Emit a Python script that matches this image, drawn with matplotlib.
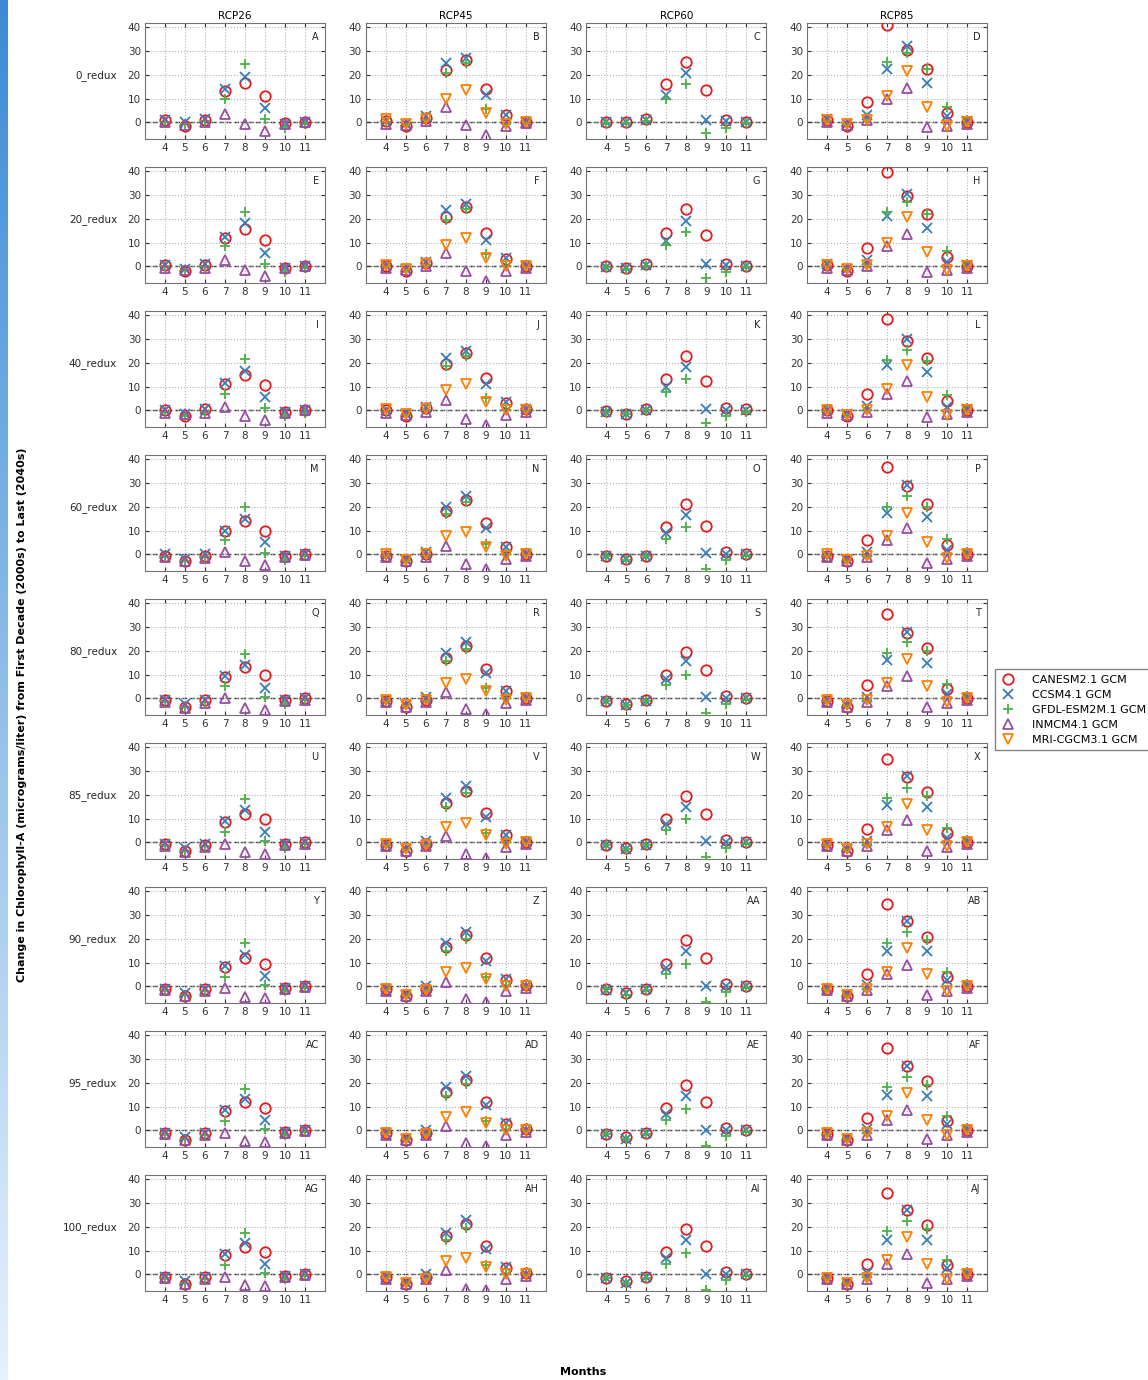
import matplotlib
matplotlib.use("Agg")
import matplotlib.pyplot as plt
import numpy as np

months = [4, 5, 6, 7, 8, 9, 10, 11]
scenarios = ["0_redux", "20_redux", "40_redux", "60_redux", "80_redux",
             "85_redux", "90_redux", "95_redux", "100_redux"]
rcps = ["RCP26", "RCP45", "RCP60", "RCP85"]
letters = ["A", "B", "C", "D", "E", "F", "G", "H", "I", "J", "K", "L",
           "M", "N", "O", "P", "Q", "R", "S", "T", "U", "V", "W", "X",
           "Y", "Z", "AA", "AB", "AC", "AD", "AE", "AF", "AG", "AH", "AI", "AJ"]
models = ["CANESM2.1 GCM", "CCSM4.1 GCM", "GFDL-ESM2M.1 GCM",
          "INMCM4.1 GCM", "MRI-CGCM3.1 GCM"]

# one row per scenario, one value per month
rcp26_canesm = [[1, -1.5, 1, 13, 16.5, 11, -0.3, 0],
                [0.5, -2, 0.5, 12, 15.5, 11, -0.5, 0],
                [0, -2.5, 0.5, 11, 15, 10.5, -0.5, 0],
                [-0.5, -3, -0.5, 10, 14, 10, -0.5, 0],
                [-0.5, -3.5, -0.5, 9, 13, 10, -0.5, 0],
                [-0.5, -3.5, -1, 8.5, 12, 10, -0.5, 0.3],
                [-1, -4, -1, 8, 12, 9.5, -0.5, 0.3],
                [-1, -4, -1, 8, 12, 9.5, -0.5, 0.3],
                [-1, -4, -1, 8, 11.5, 9.5, -0.5, 0.3]]
rcp26_ccsm = [[0.8, 0, 1.5, 14, 19, 6, -0.5, 0.3],
              [0.5, -1, 1, 12.5, 18, 5.5, -0.5, 0.3],
              [0.3, -1.5, 0.5, 11.5, 16.5, 5.5, -0.5, 0.3],
              [0, -2, 0, 10, 15, 5, -0.5, 0.3],
              [-0.5, -2.5, -0.5, 9.5, 14, 4.5, -0.5, 0],
              [-0.5, -2.5, -0.5, 9, 13.5, 4.5, -0.5, 0.3],
              [-1, -3, -1, 8.5, 13, 4.5, -0.8, 0.3],
              [-1, -3, -1, 8.5, 13, 4.5, -0.8, 0.3],
              [-1, -3, -1, 8.5, 13, 4.5, -0.8, 0.3]]
rcp26_gfdl = [[0, -0.5, 0.5, 10, 24.5, 1.5, -2.5, -0.5],
              [0, -1.5, 0, 8.5, 23, 1, -2.5, -0.5],
              [-0.5, -2.5, -0.5, 7, 21.5, 1, -2.5, -1],
              [-1, -3, -1, 6, 20, 0.5, -2.5, -0.5],
              [-1, -3.5, -1.5, 5, 18.5, 0.5, -2.5, -0.5],
              [-1, -3.5, -1.5, 4.5, 18, 0.5, -2.5, -0.5],
              [-1.5, -3.5, -2, 4, 18, 0.5, -2, -0.5],
              [-1.5, -3.5, -2, 4, 17.5, 0.5, -2, -0.5],
              [-1.5, -3.5, -2, 4, 17.5, 0.5, -2, -0.5]]
rcp26_inmcm = [[0, -1, 0, 3.5, -0.5, -3.5, -0.5, 0],
               [-0.5, -1.5, -0.5, 2.5, -1.5, -4, -0.5, 0],
               [-1, -1.5, -1, 1.5, -2.5, -4, -1, 0],
               [-1, -3, -1.5, 1, -3, -4.5, -1, -0.3],
               [-1.5, -4, -2, 0, -4, -5, -1, -0.5],
               [-1.5, -4, -2, -0.5, -4, -5, -1, -0.5],
               [-1.5, -4, -2, -0.5, -4.5, -5, -1, -0.3],
               [-1.5, -4, -2, -1, -4.5, -5, -1, -0.3],
               [-1.5, -4, -2, -1, -4.5, -5, -1, -0.3]]

rcp45_canesm = [[0.5, -1.5, 2, 22, 26, 14, 3, 0.3],
                [0.3, -2, 1.5, 20.5, 25, 14, 3, 0.3],
                [0, -2.5, 1, 19.5, 24, 13.5, 3, 0.5],
                [-0.5, -3, 0, 18, 23, 13, 3, 0.3],
                [-1, -3.5, -0.5, 17, 22, 12.5, 3, 0.3],
                [-1, -3.5, -0.5, 16.5, 21.5, 12.5, 3, 0.3],
                [-1, -4, -1, 16.5, 21.5, 12, 2.5, 0.5],
                [-1, -4, -1, 16, 21, 12, 2.5, 0.5],
                [-1, -4, -1, 16, 21, 12, 2.5, 0.5]]
rcp45_ccsm = [[0.5, -0.5, 2.5, 25, 27, 11.5, 3, 0.3],
              [0.3, -1, 2, 23.5, 26, 11, 3.5, 0.3],
              [0, -1.5, 1.5, 22, 25, 11, 3.5, 0.5],
              [-0.5, -2.5, 1, 20, 24.5, 11, 3, 0.3],
              [-1, -3, 0.5, 19, 23.5, 10.5, 3, 0],
              [-1, -3, 0.5, 18.5, 23.5, 10.5, 3, 0.3],
              [-1, -3.5, 0, 18, 23, 10.5, 3, 0.3],
              [-1, -3.5, 0, 18, 23, 10.5, 3, 0.3],
              [-1, -3.5, 0, 17.5, 23, 10.5, 3, 0.3]]
rcp45_gfdl = [[0, -0.5, 1, 20.5, 25, 5.5, -0.5, 0],
              [0, -1.5, 0.5, 19.5, 24, 5, 0, 0],
              [-0.5, -2, 0, 18.5, 23, 5, 0, 0],
              [-0.5, -2.5, -0.5, 17, 22, 4.5, 0, 0],
              [-1, -3, -0.5, 15.5, 20.5, 4.5, 0, 0],
              [-1, -3, -0.5, 15, 20.5, 4, 0, 0],
              [-1, -3.5, -1, 15, 20, 4, 0, 0],
              [-1, -3.5, -1, 14.5, 19.5, 4, 0, 0],
              [-1, -3.5, -1, 14.5, 19.5, 4, 0, 0]]
rcp45_inmcm = [[-0.5, -1, 0.5, 6.5, -1, -5.5, -1.5, -0.3],
               [-0.5, -1.5, 0, 5.5, -2, -6, -2, -0.5],
               [-1, -2, -0.5, 4.5, -3.5, -6, -2, -0.5],
               [-1, -3, -1, 3.5, -4, -6, -2, -0.5],
               [-1.5, -3.5, -1.5, 2.5, -4.5, -6.5, -2, -0.5],
               [-1.5, -3.5, -1.5, 2.5, -5, -6.5, -2, -0.5],
               [-2, -4, -2, 2, -5.5, -6.5, -2, -0.5],
               [-2, -4, -2, 2, -5.5, -6.5, -2, -0.5],
               [-2, -4, -2, 2, -6, -6.5, -2, -0.5]]
rcp45_mri = [[1.5, -0.5, 1.5, 10, 13.5, 4, -0.5, 0.3],
             [0.5, -1, 1, 9, 12, 3.5, 0, 0.3],
             [0.5, -1.5, 0.5, 8.5, 11, 3.5, 0, 0.3],
             [0, -2.5, 0, 7.5, 9.5, 3, -0.5, 0],
             [-0.5, -3, -0.5, 6.5, 8, 3, -0.5, 0],
             [-0.5, -3, -1, 6.5, 8, 3, -0.5, 0],
             [-1, -3.5, -1.5, 6, 7.5, 3, 0, 0],
             [-1, -3.5, -1.5, 5.5, 7.5, 3, 0, 0],
             [-1, -3.5, -2, 5.5, 7, 3, 0, 0]]

rcp60_canesm = [[0, 0, 1.5, 16, 25.5, 13.5, 0.8, 0.3],
                [0, -0.5, 1, 14, 24, 13, 1, 0.3],
                [-0.3, -1.5, 0.5, 13, 23, 12.5, 1, 0.5],
                [-0.5, -2, -0.5, 11.5, 21, 12, 1, 0.3],
                [-1, -2.5, -0.5, 10, 19.5, 12, 1, 0.3],
                [-1, -2.5, -0.5, 10, 19.5, 12, 1, 0.3],
                [-1, -3, -1, 9.5, 19.5, 12, 1, 0.3],
                [-1.5, -3, -1, 9.5, 19, 12, 1, 0.3],
                [-1.5, -3, -1, 9.5, 19, 12, 1, 0.3]]
rcp60_ccsm = [[0, 0, 1, 11.5, 20.5, 1, 0.5, 0],
              [-0.3, -0.5, 0.5, 10.5, 19, 1, 0.5, 0],
              [-0.5, -1.5, 0, 10, 18, 0.5, 0.3, 0],
              [-0.5, -2, -0.5, 9, 16.5, 0.5, 0.3, 0],
              [-1, -3, -1, 8, 15.5, 0.5, 0.3, 0],
              [-1, -3, -1, 7.5, 15, 0.5, 0.3, 0],
              [-1.5, -3, -1, 7.5, 15, 0, 0.3, 0],
              [-1.5, -3.5, -1, 7, 14.5, 0, 0.3, 0],
              [-1.5, -3.5, -1, 7, 14.5, 0, 0.3, 0]]
rcp60_gfdl = [[-0.3, -0.3, 0.5, 10, 16, -4.5, -2.5, -0.3],
              [-0.3, -1, 0, 9, 14.5, -5, -2.5, -0.3],
              [-0.5, -1.5, 0, 7.5, 13, -5.5, -2.5, -0.5],
              [-0.5, -2.5, -0.5, 6.5, 11.5, -6, -2.5, -0.5],
              [-1, -3, -1, 5.5, 10, -6, -2.5, -0.5],
              [-1, -3, -1, 5, 10, -6, -2.5, -0.5],
              [-1, -3.5, -1.5, 5, 9.5, -6.5, -2.5, -0.5],
              [-1.5, -3.5, -1.5, 4.5, 9, -6.5, -2.5, -0.5],
              [-1.5, -3.5, -1.5, 4.5, 9, -6.5, -2.5, -0.5]]

rcp85_canesm = [[1, -1.5, 8.5, 41, 30.5, 22.5, 4, 0],
                [0.5, -2, 7.5, 39.5, 29.5, 22, 4, 0],
                [0, -2.5, 7, 38.5, 29, 22, 4, 0],
                [-0.5, -3, 6, 36.5, 28.5, 21, 4, 0],
                [-1, -3.5, 5.5, 35.5, 27.5, 21, 4, 0],
                [-1, -3.5, 5.5, 35, 27.5, 21, 4, 0],
                [-1, -4, 5, 34.5, 27.5, 20.5, 4, 0.3],
                [-1.5, -4, 5, 34.5, 27, 20.5, 4, 0.3],
                [-1.5, -4, 4.5, 34, 27, 20.5, 4, 0.3]]
rcp85_ccsm = [[1.5, -0.5, 3, 22.5, 32, 16.5, 2.5, 0.5],
              [1, -1, 2.5, 21, 30.5, 16, 2, 0.5],
              [0, -1.5, 2, 19, 30, 16, 1.5, 0.5],
              [-0.5, -2.5, 1, 17.5, 29, 15.5, 2, 0.3],
              [-1, -3, 0.5, 16, 28, 15, 2, 0.3],
              [-1, -3, 0.5, 15.5, 28, 15, 2, 0.3],
              [-1, -3.5, 0.5, 15, 27.5, 15, 2.5, 0.3],
              [-1.5, -3.5, 0.5, 15, 27, 14.5, 2.5, 0.3],
              [-1.5, -3.5, 0.5, 14.5, 27, 14.5, 2.5, 0.3]]
rcp85_gfdl = [[0.5, -0.5, 2, 25.5, 29, 22.5, 6.5, 1],
              [0, -1, 1, 23, 27, 22, 6.5, 1],
              [-0.3, -1.5, 0, 21, 25.5, 20.5, 6.5, 1],
              [-0.5, -2.5, -0.5, 20, 24.5, 20, 6.5, 1],
              [-1, -3, -0.5, 19, 23.5, 20, 6, 1],
              [-1, -3, -0.5, 18.5, 23, 19.5, 6, 1],
              [-1.5, -3.5, -1, 18, 23, 19.5, 6, 1],
              [-1.5, -3.5, -1, 18, 22.5, 19, 6, 1],
              [-1.5, -3.5, -1, 18, 22.5, 19, 6, 1]]
rcp85_inmcm = [[0, -1, 1, 10, 14.5, -2, -1.5, -0.5],
               [-0.5, -1.5, 0, 8.5, 13.5, -2.5, -1.5, -0.5],
               [-1, -2, -0.5, 7, 12.5, -3, -1.5, -0.5],
               [-1, -3, -1, 6, 11, -3.5, -2, -0.5],
               [-1.5, -3.5, -1.5, 5, 9.5, -3.5, -2, -0.5],
               [-1.5, -3.5, -1.5, 5, 9.5, -3.5, -2, -0.5],
               [-1.5, -4, -1.5, 5, 9, -3.5, -2, -0.5],
               [-2, -4, -2, 4.5, 8.5, -3.5, -2, -0.5],
               [-2, -4, -2, 4.5, 8.5, -3.5, -2, -0.5]]
rcp85_mri = [[1, -0.5, 1, 11, 21.5, 6.5, -1.5, 0],
             [0.5, -1, 0.5, 10, 20.5, 6, -1.5, 0],
             [0.3, -2, 0, 9, 19, 5.5, -2, 0],
             [0, -2.5, -0.5, 7.5, 17.5, 5, -1.5, 0],
             [-0.5, -3, -0.5, 6.5, 16.5, 5, -1.5, 0],
             [-0.5, -3, -0.5, 6.5, 16, 5, -1.5, 0],
             [-1, -3.5, -1, 6, 16, 5, -2, 0],
             [-1, -3.5, -1, 6, 15.5, 4.5, -2, 0],
             [-1.5, -3.5, -1.5, 6, 15.5, 4.5, -2, 0]]

# None = model not run for that RCP
data = {
    "RCP26": [rcp26_canesm, rcp26_ccsm, rcp26_gfdl, rcp26_inmcm, None],
    "RCP45": [rcp45_canesm, rcp45_ccsm, rcp45_gfdl, rcp45_inmcm, rcp45_mri],
    "RCP60": [rcp60_canesm, rcp60_ccsm, rcp60_gfdl, None, None],
    "RCP85": [rcp85_canesm, rcp85_ccsm, rcp85_gfdl, rcp85_inmcm, rcp85_mri],
}

colors = ["#e41a1c", "#377eb8", "#4daf4a", "#984ea3", "#ff7f00"]
markers = ["o", "x", "+", "^", "v"]

W, H = 1148, 1380
fig = plt.figure(figsize=(W / 100, H / 100), dpi=100)

# blue strip on the left edge
strip = fig.add_axes([0, 0, 8 / W, 1])
grad = np.linspace(0, 1, 256).reshape(-1, 1)
strip.imshow(grad, aspect="auto", cmap=matplotlib.colors.LinearSegmentedColormap.from_list(
    "s", ["#3a8bd6", "#e6f2fc"]), extent=[0, 1, 0, 1])
strip.axis("off")

handles = [None] * 5
for r, scen in enumerate(scenarios):
    for c, rcp in enumerate(rcps):
        left = 145 + 220.7 * c
        top = 23 + 144 * r
        ax = fig.add_axes([left / W, 1 - (top + 116) / H, 180 / W, 116 / H])
        ax.axhline(0, color="0.25", ls="--", lw=1, zorder=1)
        for m in range(5):
            vals = data[rcp][m]
            if vals is None:
                continue
            if markers[m] in ("o", "^", "v"):
                h, = ax.plot(months, vals[r], ls="none", marker=markers[m],
                             mfc="none", mec=colors[m], mew=1.3, ms=7.5,
                             label=models[m], zorder=3)
            else:
                h, = ax.plot(months, vals[r], ls="none", marker=markers[m],
                             color=colors[m], mew=1.3, ms=7.5,
                             label=models[m], zorder=3)
            handles[m] = h
        ax.set_xlim(3, 12)
        ax.set_ylim(-7, 41.7)
        ax.set_xticks(months)
        ax.set_yticks([0, 10, 20, 30, 40])
        ax.grid(True, ls=":", color="0.7", lw=0.8)
        ax.tick_params(direction="in", labelsize=7.5, colors="0.2", length=3,
                       top=True, right=True, pad=3)
        for s in ax.spines.values():
            s.set_color("0.45")
        ax.text(0.965, 0.88, letters[r * 4 + c], transform=ax.transAxes,
                ha="right", va="center", fontsize=7, color="0.15")
        if r == 0:
            ax.set_title(rcp, fontsize=7.5, pad=3)
        if c == 0:
            ax.text(-0.155, 0.55, scen, transform=ax.transAxes, ha="right",
                    va="center", fontsize=7.5, color="0.15")

fig.legend(handles, models, loc="upper left",
           bbox_to_anchor=(995 / W, 1 - 669 / H), fontsize=8,
           frameon=True, fancybox=False, edgecolor="0.4",
           handletextpad=1.4, borderpad=0.5, labelspacing=0.45,
           handlelength=1.4, borderaxespad=0)

fig.text(22 / W, 1 - 715 / H,
         "Change in Chlorophyll-A (micrograms/liter) from First Decade (2000s) to Last (2040s)",
         rotation=90, ha="center", va="center", fontsize=8, fontweight="bold")
fig.text(583 / W, 1 - 1372 / H, "Months", ha="center", va="center",
         fontsize=8, fontweight="bold")

fig.savefig("out.png", dpi=100)
